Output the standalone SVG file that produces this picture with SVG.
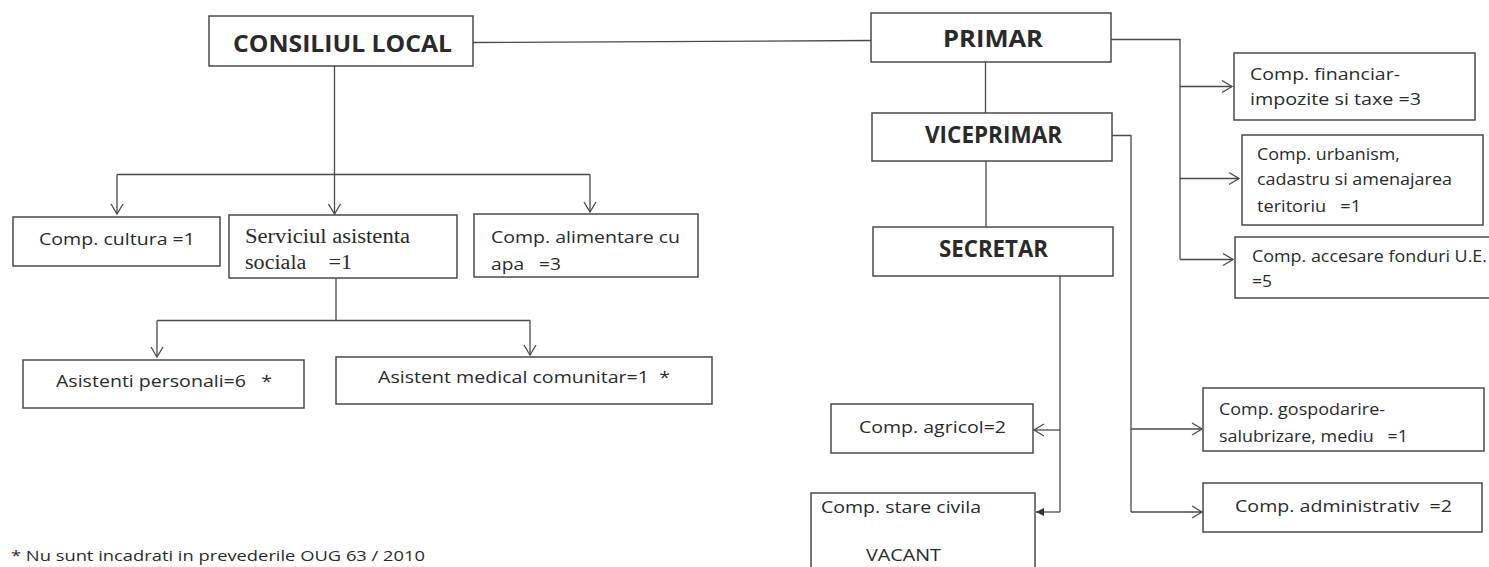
<svg xmlns="http://www.w3.org/2000/svg" width="1489" height="567" viewBox="0 0 1489 567">
<style>
  text { font-family: "Open Sans", "Liberation Sans", sans-serif; font-size: 17px; fill: #2a2a2a; white-space: pre; }
  .title { font-weight: bold; font-size: 23.5px; fill: #2a2a2a; }
  .serif { font-family: "Liberation Serif", serif; font-size: 20px; }
  .note { font-size: 15px; }
  .box { fill: #ffffff; stroke: #4a4a4a; stroke-width: 1.5; }
  .conn { fill: none; stroke: #4a4a4a; stroke-width: 1.3; }
</style>
<defs>
  <marker id="open" markerUnits="userSpaceOnUse" markerWidth="14" markerHeight="14" refX="11" refY="7" orient="auto">
    <path d="M1,1 L11,7 L1,13" fill="none" stroke="#4a4a4a" stroke-width="1.3"/>
  </marker>
  <marker id="filled" markerUnits="userSpaceOnUse" markerWidth="10" markerHeight="10" refX="8" refY="5" orient="auto">
    <path d="M0,1 L8,5 L0,9 Z" fill="#333333"/>
  </marker>
</defs>
<rect width="1489" height="567" fill="#ffffff"/>

<g id="connectors">
  <line class="conn" x1="473" y1="42.5" x2="871" y2="40.5"/>
  <polyline class="conn" points="334.5,66 334.5,174.5"/>
  <polyline class="conn" points="117,174.5 590,174.5"/>
  <line class="conn" x1="117" y1="174.5" x2="117" y2="214" marker-end="url(#open)"/>
  <line class="conn" x1="334.5" y1="174.5" x2="334.5" y2="214" marker-end="url(#open)"/>
  <line class="conn" x1="590" y1="174.5" x2="590" y2="212" marker-end="url(#open)"/>
  <polyline class="conn" points="336,262 336,320.5"/>
  <polyline class="conn" points="157,320.5 530,320.5"/>
  <line class="conn" x1="157" y1="320.5" x2="157" y2="357" marker-end="url(#open)"/>
  <line class="conn" x1="530" y1="320.5" x2="530" y2="355" marker-end="url(#open)"/>
  <polyline class="conn" points="1111,39.5 1180,39.5 1180,259.5"/>
  <line class="conn" x1="1180" y1="86.5" x2="1232" y2="86.5" marker-end="url(#open)"/>
  <line class="conn" x1="1180" y1="178.5" x2="1239" y2="178.5" marker-end="url(#open)"/>
  <line class="conn" x1="1180" y1="259.5" x2="1233" y2="259.5" marker-end="url(#open)"/>
  <line class="conn" x1="985.5" y1="62" x2="985.5" y2="113"/>
  <line class="conn" x1="986" y1="161" x2="986" y2="227"/>
  <polyline class="conn" points="1112,135.5 1131,135.5 1131,512"/>
  <line class="conn" x1="1131" y1="429" x2="1202" y2="429" marker-end="url(#open)"/>
  <line class="conn" x1="1131" y1="512" x2="1202" y2="512" marker-end="url(#open)"/>
  <polyline class="conn" points="1060,276 1060,512"/>
  <line class="conn" x1="1060" y1="430" x2="1034" y2="430" marker-end="url(#open)"/>
  <line class="conn" x1="1060" y1="512" x2="1036" y2="512" marker-end="url(#filled)"/>
</g>

<g id="consiliul-local">
  <rect class="box" x="209" y="16" width="264" height="50"/>
  <text class="title" x="233" y="51.7" textLength="219" lengthAdjust="spacingAndGlyphs">CONSILIUL LOCAL</text>
</g>
<g id="primar">
  <rect class="box" x="871" y="13" width="240" height="49"/>
  <text class="title" x="943" y="47.3" textLength="100" lengthAdjust="spacingAndGlyphs">PRIMAR</text>
</g>
<g id="viceprimar">
  <rect class="box" x="872" y="113" width="240" height="48"/>
  <text class="title" x="925" y="143.3" textLength="137" lengthAdjust="spacingAndGlyphs">VICEPRIMAR</text>
</g>
<g id="secretar">
  <rect class="box" x="873" y="227" width="240" height="49"/>
  <text class="title" x="939" y="256.7" textLength="109" lengthAdjust="spacingAndGlyphs">SECRETAR</text>
</g>
<g id="comp-cultura">
  <rect class="box" x="13" y="217" width="207" height="49"/>
  <text x="39" y="245" textLength="156" lengthAdjust="spacingAndGlyphs">Comp. cultura =1</text>
</g>
<g id="serviciul-asistenta-sociala">
  <rect class="box" x="229" y="215" width="228" height="63"/>
  <text class="serif" x="245" y="242.7" textLength="165" lengthAdjust="spacingAndGlyphs">Serviciul asistenta</text>
  <text class="serif" x="245" y="269" textLength="107" lengthAdjust="spacingAndGlyphs">sociala    =1</text>
</g>
<g id="comp-alimentare">
  <rect class="box" x="474" y="214" width="224" height="63"/>
  <text x="491" y="242.7" textLength="189" lengthAdjust="spacingAndGlyphs">Comp. alimentare cu</text>
  <text x="491" y="270" textLength="70" lengthAdjust="spacingAndGlyphs">apa   =3</text>
</g>
<g id="asistenti-personali">
  <rect class="box" x="23" y="360" width="281" height="48"/>
  <text x="56" y="386.7" textLength="216" lengthAdjust="spacingAndGlyphs">Asistenti personali=6   *</text>
</g>
<g id="asistent-medical">
  <rect class="box" x="336" y="357" width="376" height="47"/>
  <text x="378" y="382.7" textLength="292" lengthAdjust="spacingAndGlyphs">Asistent medical comunitar=1  *</text>
</g>
<g id="comp-financiar">
  <rect class="box" x="1234" y="53" width="241" height="67"/>
  <text x="1250" y="80" textLength="150" lengthAdjust="spacingAndGlyphs">Comp. financiar-</text>
  <text x="1250" y="105" textLength="171" lengthAdjust="spacingAndGlyphs">impozite si taxe =3</text>
</g>
<g id="comp-urbanism">
  <rect class="box" x="1242" y="135" width="241" height="90"/>
  <text x="1257" y="160" textLength="143" lengthAdjust="spacingAndGlyphs">Comp. urbanism,</text>
  <text x="1257" y="185" textLength="195" lengthAdjust="spacingAndGlyphs">cadastru si amenajarea</text>
  <text x="1257" y="211.7" textLength="104" lengthAdjust="spacingAndGlyphs">teritoriu   =1</text>
</g>
<g id="comp-accesare">
  <path class="box" d="M1495,237 H1235 V298 H1495"/>
  <text x="1252" y="261.7" textLength="235" lengthAdjust="spacingAndGlyphs">Comp. accesare fonduri U.E.</text>
  <text x="1252" y="286.7" textLength="20" lengthAdjust="spacingAndGlyphs">=5</text>
</g>
<g id="comp-agricol">
  <rect class="box" x="831" y="404" width="202" height="49"/>
  <text x="859" y="432.7" textLength="147" lengthAdjust="spacingAndGlyphs">Comp. agricol=2</text>
</g>
<g id="comp-stare-civila">
  <rect class="box" x="811" y="493" width="224" height="90"/>
  <text x="821" y="513.3" textLength="160" lengthAdjust="spacingAndGlyphs">Comp. stare civila</text>
  <text x="866" y="561" textLength="75" lengthAdjust="spacingAndGlyphs">VACANT</text>
</g>
<g id="comp-gospodarire">
  <rect class="box" x="1203" y="388" width="281" height="63"/>
  <text x="1219" y="415" textLength="166" lengthAdjust="spacingAndGlyphs">Comp. gospodarire-</text>
  <text x="1219" y="441.7" textLength="189" lengthAdjust="spacingAndGlyphs">salubrizare, mediu   =1</text>
</g>
<g id="comp-administrativ">
  <rect class="box" x="1203" y="483" width="279" height="49"/>
  <text x="1235" y="511.7" textLength="217" lengthAdjust="spacingAndGlyphs">Comp. administrativ  =2</text>
</g>
<g id="footnote">
  <text class="note" x="11" y="561" textLength="414" lengthAdjust="spacingAndGlyphs">* Nu sunt incadrati in prevederile OUG 63 / 2010</text>
</g>
</svg>
